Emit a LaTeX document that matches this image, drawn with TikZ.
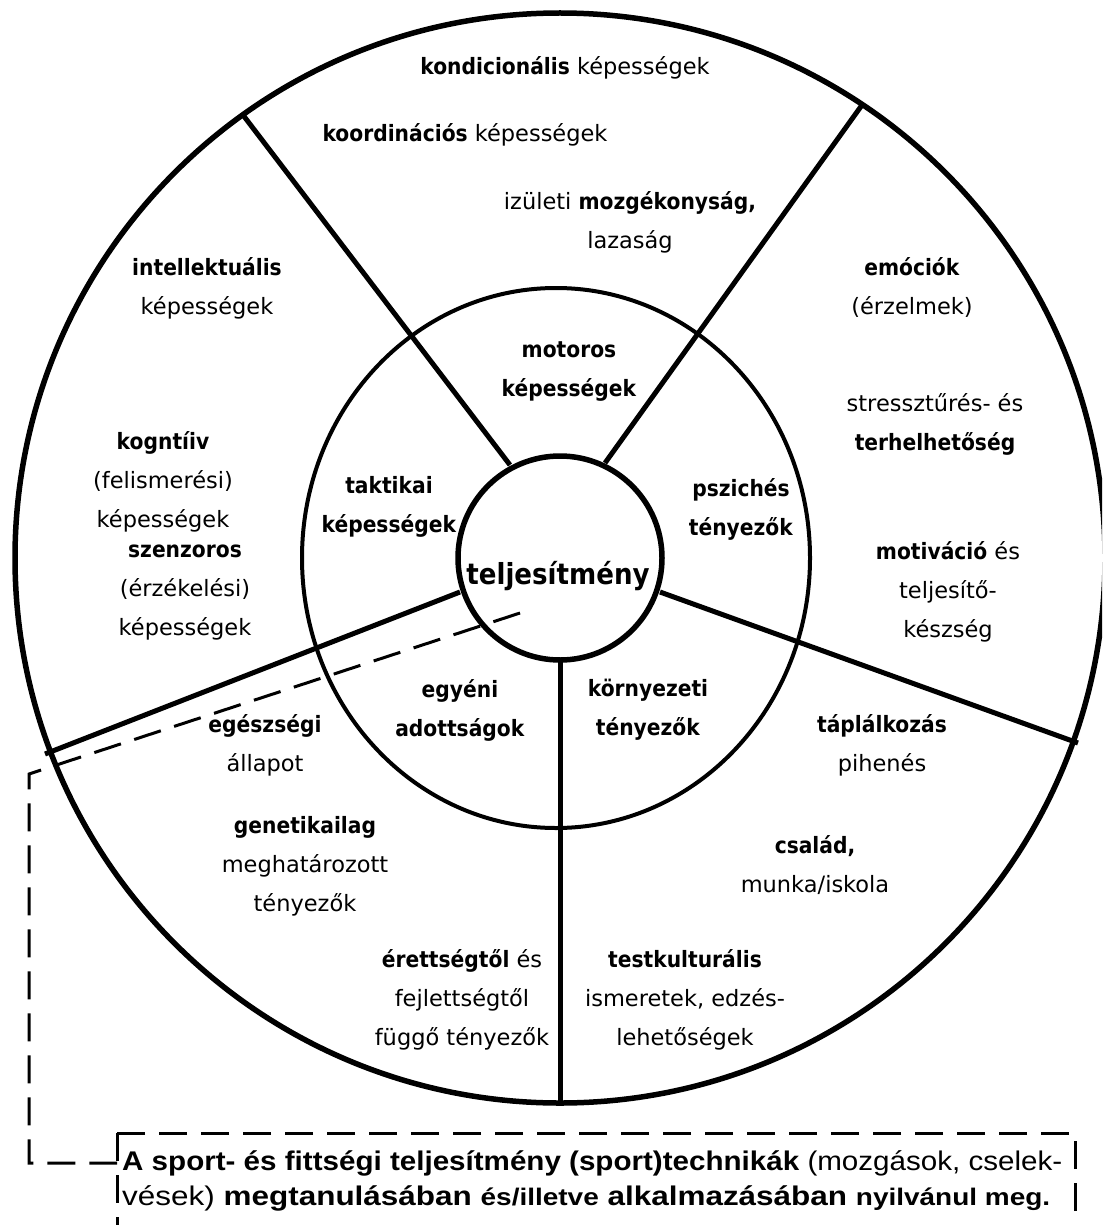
\documentclass[tikz,border=0pt]{standalone}
\usepackage{fontspec}
\usepackage{graphicx}
\setmainfont{DejaVu Sans}[BoldFeatures={FakeStretch=0.9}]
\newfontfamily\boxfont{Liberation Sans}
\usetikzlibrary{calc}

\begin{document}
\begin{tikzpicture}[x=1pt,y=-1pt,
  lab/.style={align=center,font=\fontsize{22.5}{39}\selectfont,inner sep=0pt},
  ring/.style={line width=5.5pt},
  spoke/.style={line width=5pt},
  conn/.style={line width=3pt,dash pattern=on 28pt off 14pt}]
\useasboundingbox (0,0) rectangle (1102,1225);
\clip (0,0) rectangle (1102,1225);
\fill[white] (0,0) rectangle (1102,1225);

% rings
\coordinate (c) at (560,558);
\draw[ring] (c) circle[radius=545pt];
\draw[line width=4pt] (556,558) ellipse[x radius=254pt,y radius=270pt];
\node[circle,draw,line width=5.5pt,minimum size=204pt,inner sep=0pt] (perf) at (c) {};

% spokes
\coordinate (ulA) at (510,465); \coordinate (ulB) at (243,115);
\coordinate (urA) at (605,463); \coordinate (urB) at (862,105);
\coordinate (rA) at (660,592);  \coordinate (rB) at (1078,743);
\coordinate (lA) at (460,592);  \coordinate (lB) at (45,754);
\coordinate (bA) at (560,660);  \coordinate (bB) at (560,1102);
\draw[spoke] (ulA) -- (ulB);
\draw[spoke] (urA) -- (urB);
\draw[spoke] (rA) -- (rB);
\draw[spoke] (lA) -- (lB);
\draw[spoke] (bA) -- (bB);

\node[font=\fontsize{29}{30}\selectfont\bfseries,inner sep=0pt] (perflab) at (558,576) {teljesítmény};

% inner ring labels
\node[lab] (motor) at (569,372) {\textbf{motoros}\\\textbf{képességek}};
\node[lab] (takt) at (389,507) {\textbf{taktikai}\\\textbf{képességek}};
\node[lab] (pszi) at (741,509) {\textbf{pszichés}\\\textbf{tényezők}};
\node[lab] (egyeni) at (460,710) {\textbf{egyéni}\\\textbf{adottságok}};
\node[lab] (korny) at (648,710) {\textbf{környezeti}\\\textbf{tényezők}};

% outer ring labels
\node[lab] (kond) at (565,68) {\textbf{kondicionális} képességek};
\node[lab] (koord) at (465,135) {\textbf{koordinációs} képességek};
\node[lab] (izul) at (630,222) {izületi \textbf{mozgékonyság,}\\lazaság};
\node[lab] (intel) at (207,288) {\textbf{intellektuális}\\képességek};
\node[lab] (kogn) at (163,482) {\textbf{kogntíiv}\\(felismerési)\\képességek};
\node[lab] (szenz) at (185,593) {\textbf{szenzoros}\\(érzékelési)\\képességek};
\node[lab] (emoc) at (912,287) {\textbf{emóciók}\\(érzelmek)};
\node[lab] (stressz) at (935,424) {stressztűrés- és\\\textbf{terhelhetőség}};
\node[lab] (motiv) at (948,592) {\textbf{motiváció} és\\teljesítő-\\készség};
\node[lab] (egesz) at (265,745) {\textbf{egészségi}\\állapot};
\node[lab] (taplal) at (882,745) {\textbf{táplálkozás}\\pihenés};
\node[lab] (genet) at (305,866) {\textbf{genetikailag}\\meghatározott\\tényezők};
\node[lab] (csalad) at (815,865) {\textbf{család,}\\munka/iskola};
\node[lab] (erett) at (462,1000) {\textbf{érettségtől} és\\fejlettségtől\\függő tényezők};
\node[lab] (testk) at (685,1000) {\textbf{testkulturális}\\ismeretek, edzés-\\lehetőségek};

% summary box and its dashed link to the centre
\coordinate (dA) at (520,613);
\coordinate (dB) at (29,774);
\coordinate (dC) at (29,1163);
\coordinate (boxNW) at (117,1133);
\coordinate (boxSE) at (1075,1260);
\draw[conn] (boxNW) rectangle (boxSE);
\coordinate (dD) at (117,1163);
\draw[conn] (dA) -- (dB) -- (dC) -- (dD);
\node[anchor=north west,inner sep=0pt,align=left,
      font=\boxfont\fontsize{27}{35}\selectfont] (summary) at (122,1150)
  {\resizebox{940pt}{\height}{\textbf{A sport- és fittségi teljesítmény (sport)technikák} (mozgások, cselek-}\\
   \resizebox{928pt}{\height}{vések) \textbf{megtanulásában {\fontsize{24}{35}\selectfont és/illetve} alkalmazásában {\fontsize{24}{35}\selectfont nyilvánul meg.}}}};
\end{tikzpicture}
\end{document}
